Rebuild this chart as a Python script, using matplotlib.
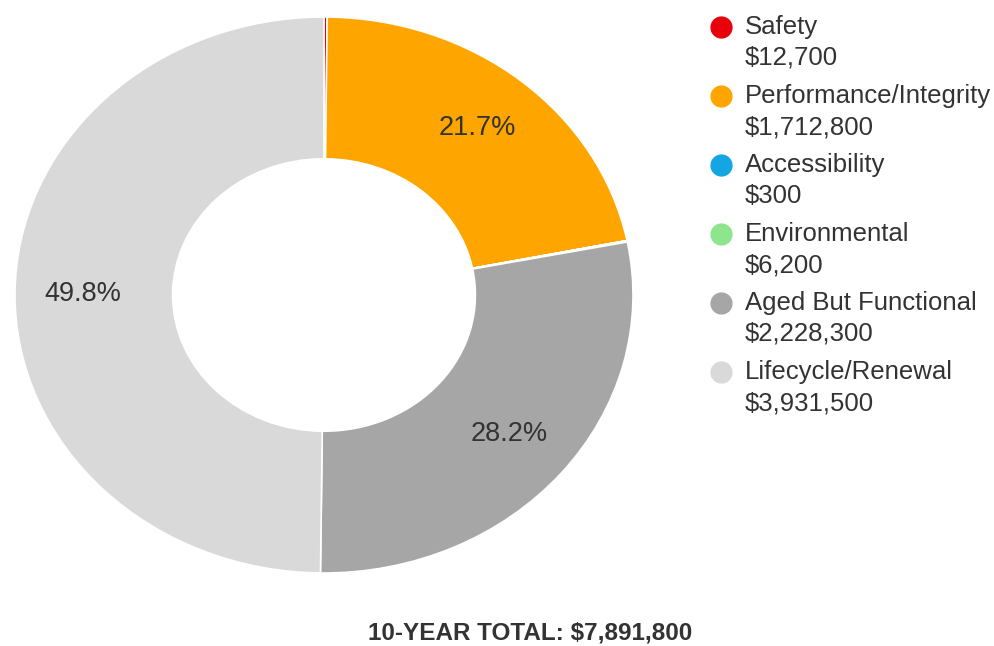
import numpy as np
import matplotlib
matplotlib.use("Agg")
import matplotlib.pyplot as plt

plt.rcParams['font.family'] = ['Liberation Sans', 'DejaVu Sans']
plt.rcParams['text.parse_math'] = False

# data
categories = ["Safety", "Performance/Integrity", "Accessibility",
              "Environmental", "Aged But Functional", "Lifecycle/Renewal"]
values = [12700, 1712800, 300, 6200, 2228300, 3931500]
colors = ["#e8000b", "#ffa500", "#14a5e3", "#8ee58e", "#a6a6a6", "#d9d9d9"]
total_label = "10-YEAR TOTAL: $7,891,800"

W, H = 995, 646
fig = plt.figure(figsize=(W / 100, H / 100), dpi=100)

# donut (image is slightly stretched sideways, so aspect is left free)
ax = fig.add_axes([15 / W, (H - 573) / H, 618 / W, 556 / H])


def pct_fmt(p):
    return "%.1f%%" % p if p > 1 else ""


wedges, texts, autotexts = ax.pie(
    values, colors=colors, startangle=90, counterclock=False,
    radius=1.0, autopct=pct_fmt, pctdistance=0.78,
    wedgeprops=dict(width=0.51, edgecolor="white", linewidth=1.2),
    textprops=dict(fontsize=19.5, color="#333333"))
ax.set_aspect("auto")
ax.set_xlim(-1, 1)
ax.set_ylim(-1, 1)

# legend, drawn in pixel space
lax = fig.add_axes([0, 0, 1, 1])
lax.set_xlim(0, W)
lax.set_ylim(H, 0)
lax.axis("off")
lax.patch.set_alpha(0)

y0 = 27
step = 69
for i, (name, val, c) in enumerate(zip(categories, values, colors)):
    y = y0 + i * step
    lax.plot(721, y, "o", ms=15, color=c, mec=c)
    lax.text(745, y, name, fontsize=18.5, color="#333333", va="center", ha="left")
    lax.text(745, y + 31, "${:,}".format(val), fontsize=18.5, color="#333333",
             va="center", ha="left")

fig.text(530 / W, 1 - 633 / H, total_label, fontsize=17.5, fontweight="bold",
         color="#333333", ha="center", va="center")

fig.savefig("out.png", dpi=100, facecolor="white")
